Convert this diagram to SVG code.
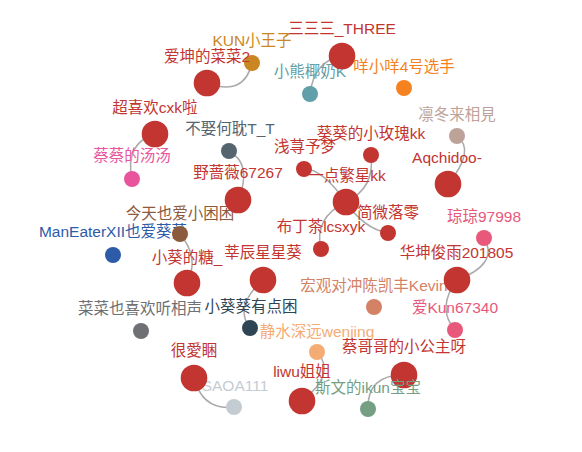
<svg xmlns="http://www.w3.org/2000/svg" width="582" height="452" viewBox="0 0 582 452">
<style>
text{font-family:"Liberation Sans","Noto Sans CJK SC",sans-serif;font-size:15.5px;text-anchor:middle}
.e{fill:none;stroke:#aaa;stroke-width:1.5}
.red{fill:#c23531}
</style>
<rect width="582" height="452" fill="#fff"/>
<g id="edges">
<path class="e" d="M207,83 Q244,97 252,63"/>
<path class="e" d="M342,56 Q314,61 310,94"/>
<path class="e" d="M155,134 Q124.5,143.5 132,179"/>
<path class="e" d="M238,200 Q253,164.5 229,151"/>
<path class="e" d="M346,202 Q321.5,168 304,169"/>
<path class="e" d="M346,202 Q375,188 371,155"/>
<path class="e" d="M346,202 Q363.5,228.5 388,233"/>
<path class="e" d="M346,202 Q313.5,218 321,249"/>
<path class="e" d="M448,184 Q476,150 457,136"/>
<path class="e" d="M187,283 Q200,258 180,234"/>
<path class="e" d="M263,280 Q233.5,306 250,328"/>
<path class="e" d="M457,280 Q499.5,264 484,238"/>
<path class="e" d="M457,280 Q436,308 455,330"/>
<path class="e" d="M194,378 Q202.7,410.8 234,407"/>
<path class="e" d="M302,401 Q337,373.5 317,352"/>
<path class="e" d="M404,375 Q367,374.7 368,409"/>
</g>
<g id="n-kun"><circle cx="252" cy="63" r="8" fill="#ca8622"/><text x="252" y="46" fill="#ca8622">KUN小王子</text></g>
<g id="n-aikun"><circle cx="207" cy="83" r="13.3" class="red"/><text x="207" y="62" class="red">爱坤的菜菜2</text></g>
<g id="n-xiaoxiong"><circle cx="310" cy="94" r="8" fill="#61a0a8"/><text x="310" y="77" fill="#61a0a8">小熊椰奶K</text></g>
<g id="n-three"><circle cx="342" cy="56" r="13.3" class="red"/><text x="342" y="33.5" class="red">三三三_THREE</text></g>
<g id="n-mie"><circle cx="404" cy="88" r="8" fill="#f58220"/><text x="404" y="72" fill="#f58220">咩小咩4号选手</text></g>
<g id="n-lindong"><circle cx="457" cy="136" r="8" fill="#bda29a"/><text x="457" y="119.5" fill="#bda29a">凛冬来相見</text></g>
<g id="n-chaoxihuan"><circle cx="155" cy="134" r="13.3" class="red"/><text x="155" y="113" class="red">超喜欢cxk啦</text></g>
<g id="n-caicai"><circle cx="132" cy="179" r="8" fill="#e8559d"/><text x="132" y="160.5" fill="#e8559d">蔡蔡的汤汤</text></g>
<g id="n-buqu"><circle cx="229" cy="151" r="8" fill="#546570"/><text x="230" y="133.5" fill="#546570">不娶何耽T_T</text></g>
<g id="n-qianxun"><circle cx="304" cy="169" r="8" class="red"/><text x="305" y="152" class="red">浅荨予梦</text></g>
<g id="n-kuikui"><circle cx="371" cy="155" r="8" class="red"/><text x="371" y="138.5" class="red">葵葵的小玫瑰kk</text></g>
<g id="n-aqchidoo"><circle cx="448" cy="184" r="13.3" class="red"/><text x="447" y="162.5" class="red">Aqchidoo-</text></g>
<g id="n-maneater"><circle cx="113" cy="255" r="8" fill="#2d5ba8"/><text x="113" y="237" fill="#2d5ba8">ManEaterXII也爱葵葵</text></g>
<g id="n-jintian"><circle cx="180" cy="234" r="8" fill="#8c5a3c"/><text x="180" y="218.5" fill="#8c5a3c">今天也爱小困困</text></g>
<g id="n-yeqiangwei"><circle cx="238" cy="200" r="13.3" class="red"/><text x="238" y="178" class="red">野蔷薇67267</text></g>
<g id="n-yidian"><circle cx="346" cy="202" r="13.3" class="red"/><text x="347" y="180.5" class="red">一点繁星kk</text></g>
<g id="n-jianwei"><circle cx="388" cy="233" r="8" class="red"/><text x="388" y="218" class="red">简微落零</text></g>
<g id="n-buding"><circle cx="321" cy="249" r="8" class="red"/><text x="321" y="232" class="red">布丁茶lcsxyk</text></g>
<g id="n-qiongqiong"><circle cx="484" cy="238" r="8" fill="#e8587a"/><text x="484" y="222" fill="#e8587a">琼琼97998</text></g>
<g id="n-hongguan"><circle cx="374" cy="307" r="8" fill="#d48265"/><text x="374" y="291" fill="#d48265">宏观对冲陈凯丰Kevin</text></g>
<g id="n-huakun"><circle cx="457" cy="280" r="13.3" class="red"/><text x="456.5" y="258" class="red">华坤俊雨201805</text></g>
<g id="n-xiaokuitang"><circle cx="187" cy="283" r="13.3" class="red"/><text x="187" y="262.5" class="red">小葵的糖_</text></g>
<g id="n-xinchen"><circle cx="263" cy="280" r="13.3" class="red"/><text x="263" y="257.5" class="red">莘辰星星葵</text></g>
<g id="n-caicaiye"><circle cx="141" cy="331" r="8" fill="#6e7074"/><text x="140" y="313.5" fill="#6e7074">菜菜也喜欢听相声</text></g>
<g id="n-xiaokuikui"><circle cx="250" cy="328" r="8" fill="#2f4554"/><text x="251" y="311.5" fill="#2f4554">小葵葵有点困</text></g>
<g id="n-aikun67340"><circle cx="455" cy="330" r="8" fill="#e8587a"/><text x="455" y="313" fill="#e8587a">爱Kun67340</text></g>
<g id="n-jingshui"><circle cx="317" cy="352" r="8" fill="#f5ac74"/><text x="317" y="337" fill="#f5ac74">静水深远wenjing</text></g>
<g id="n-saoa"><circle cx="234" cy="407" r="8" fill="#c4ccd3"/><text x="235" y="390.5" fill="#c4ccd3">SAOA111</text></g>
<g id="n-henaikun"><circle cx="194" cy="378" r="13.3" class="red"/><text x="194" y="355.5" class="red">很愛睏</text></g>
<g id="n-liwu"><circle cx="302" cy="401" r="13.3" class="red"/><text x="302" y="377" class="red">liwu姐姐</text></g>
<g id="n-caigege"><circle cx="404" cy="375" r="13.3" class="red"/><text x="404" y="352" class="red">蔡哥哥的小公主呀</text></g>
<g id="n-siwen"><circle cx="368" cy="409" r="8" fill="#749f83"/><text x="368" y="393" fill="#749f83">斯文的ikun宝宝</text></g>
</svg>
